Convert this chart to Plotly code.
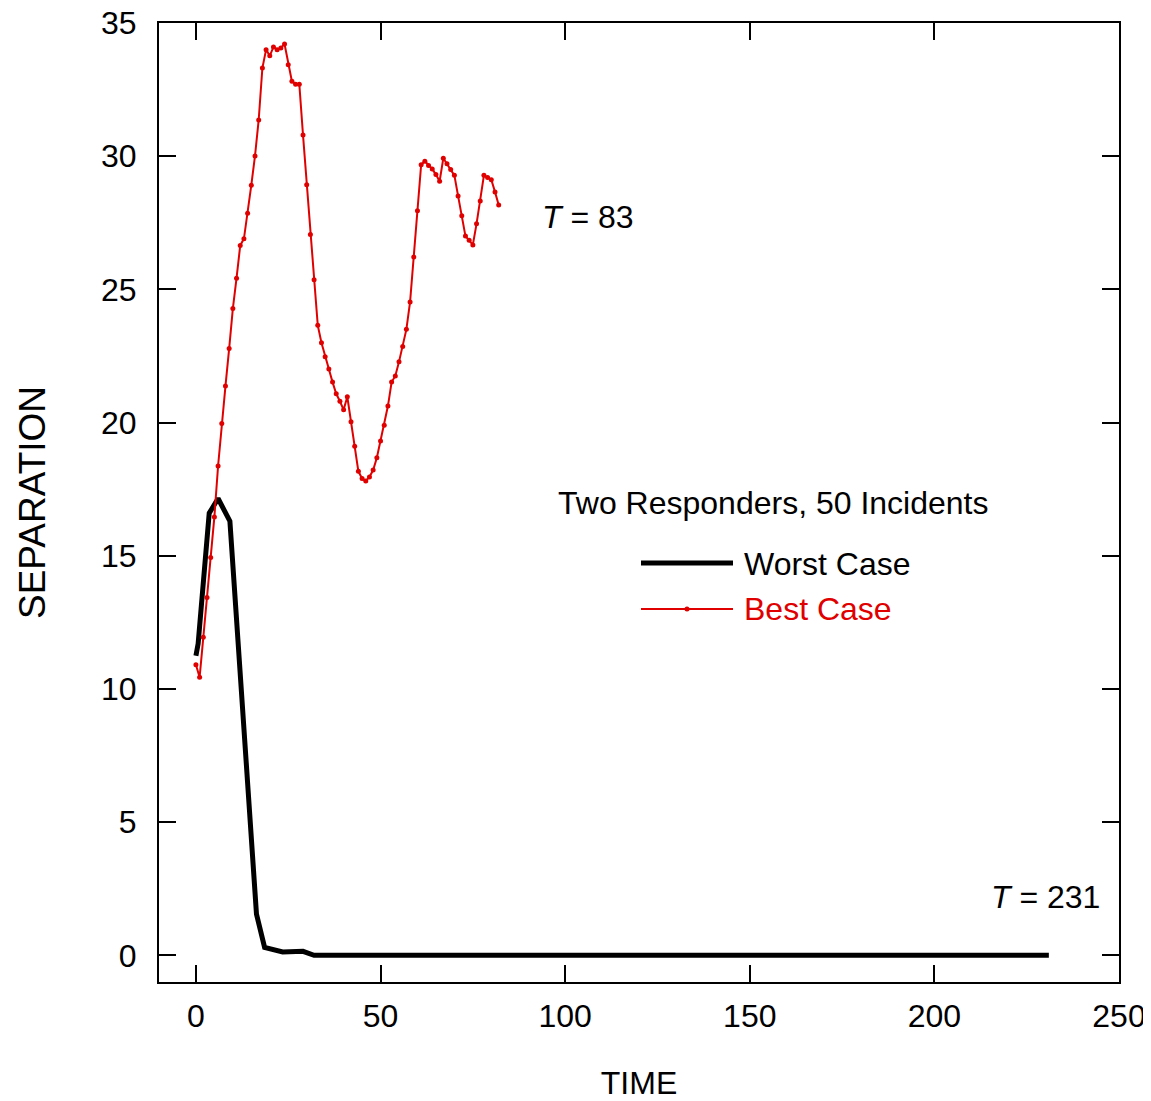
import plotly.graph_objects as go

# Best case: separation at each time step (T = 83)
best_time = list(range(0, 83))
best_sep = [10.91, 10.44, 11.94, 13.43, 14.94, 16.46, 18.37, 19.97, 21.37, 22.78,
            24.28, 25.42, 26.65, 26.90, 27.86, 28.91, 30.01, 31.36, 33.31, 34.00,
            33.77, 34.10, 34.00, 34.06, 34.21, 33.43, 32.81, 32.70, 32.70, 30.80,
            28.93, 27.06, 25.36, 23.65, 23.00, 22.47, 22.01, 21.52, 21.08, 20.80,
            20.48, 20.97, 20.03, 19.11, 18.17, 17.90, 17.81, 17.96, 18.22, 18.68,
            19.31, 19.90, 20.62, 21.52, 21.75, 22.28, 22.86, 23.50, 24.53, 26.22,
            27.95, 29.68, 29.81, 29.65, 29.52, 29.31, 29.06, 29.92, 29.72, 29.50,
            29.28, 28.51, 27.76, 27.00, 26.84, 26.67, 27.46, 28.32, 29.28, 29.20,
            29.12, 28.66, 28.17]

# Worst case (T = 231)
worst_time = [0, 0.6, 3.6, 6, 9.2, 13.6, 15, 16.4, 18.6, 23.5, 29, 32, 231]
worst_sep = [11.25, 11.7, 16.6, 17.15, 16.3, 7.3, 4.8, 1.55, 0.3, 0.13, 0.15, 0.0, 0.0]

x_ticks = [0, 50, 100, 150, 200, 250]
y_ticks = [0, 5, 10, 15, 20, 25, 30, 35]

RED = "#e00000"
FONT = "Liberation Sans, Arial, Helvetica, sans-serif"
FS = 32

fig = go.Figure()
fig.add_trace(go.Scatter(x=worst_time, y=worst_sep, mode="lines",
                         line=dict(color="black", width=5), name="Worst Case",
                         showlegend=False))
fig.add_trace(go.Scatter(x=best_time, y=best_sep, mode="lines+markers",
                         line=dict(color=RED, width=2),
                         marker=dict(color=RED, size=5), name="Best Case",
                         showlegend=False))

axis_common = dict(showline=True, linecolor="black", linewidth=2, mirror="ticks",
                   ticks="inside", ticklen=17, tickwidth=2, tickcolor="black",
                   showgrid=False, zeroline=False, ticklabeloverflow="allow",
                   tickfont=dict(family=FONT, size=FS, color="black"))

fig.update_xaxes(range=[-10, 250], tickvals=x_ticks, ticklabelstandoff=5,
                 title=dict(text="TIME", font=dict(family=FONT, size=FS, color="black"),
                            standoff=61),
                 **axis_common)
fig.update_yaxes(range=[-1, 35], tickvals=y_ticks, ticklabelstandoff=14,
                 title=dict(text="SEPARATION", font=dict(family=FONT, size=37, color="black"),
                            standoff=44),
                 **axis_common)

# helpers converting screen pixel positions of the reference into paper fractions
def px_x(p):
    return (p - 159) / 960.0

def px_y(p):
    return (982 - p) / 959.0

annotations = [
    dict(text="Two Responders, 50 Incidents", x=px_x(773), y=px_y(503), xanchor="center",
         yanchor="middle", font=dict(family=FONT, size=FS, color="black")),
    dict(text="Worst Case", x=px_x(742), y=px_y(564), xanchor="left", yanchor="middle",
         font=dict(family=FONT, size=FS, color="black")),
    dict(text="Best Case", x=px_x(742), y=px_y(609), xanchor="left", yanchor="middle",
         font=dict(family=FONT, size=FS, color=RED)),
    dict(text="<i>T</i> = 83", x=px_x(540), y=px_y(217), xanchor="left", yanchor="middle",
         font=dict(family=FONT, size=FS, color="black")),
    dict(text="<i>T</i> = 231", x=px_x(989), y=px_y(897), xanchor="left", yanchor="middle",
         font=dict(family=FONT, size=FS, color="black")),
]
for a in annotations:
    a.update(xref="paper", yref="paper", showarrow=False)

shapes = [
    dict(type="line", xref="paper", yref="paper", x0=px_x(641), x1=px_x(733),
         y0=px_y(563), y1=px_y(563), line=dict(color="black", width=5)),
    dict(type="line", xref="paper", yref="paper", x0=px_x(641), x1=px_x(733),
         y0=px_y(609), y1=px_y(609), line=dict(color=RED, width=2)),
    dict(type="circle", xref="paper", yref="paper", x0=px_x(684.5), x1=px_x(689.5),
         y0=px_y(611.5), y1=px_y(606.5), line=dict(color=RED, width=0), fillcolor=RED),
]

fig.update_layout(width=1143, height=1093, paper_bgcolor="white", plot_bgcolor="white",
                  margin=dict(l=151, r=32, t=15, b=119, autoexpand=False),
                  font=dict(family=FONT, size=FS, color="black"),
                  annotations=annotations, shapes=shapes, showlegend=False)

fig.write_html("out.html")
